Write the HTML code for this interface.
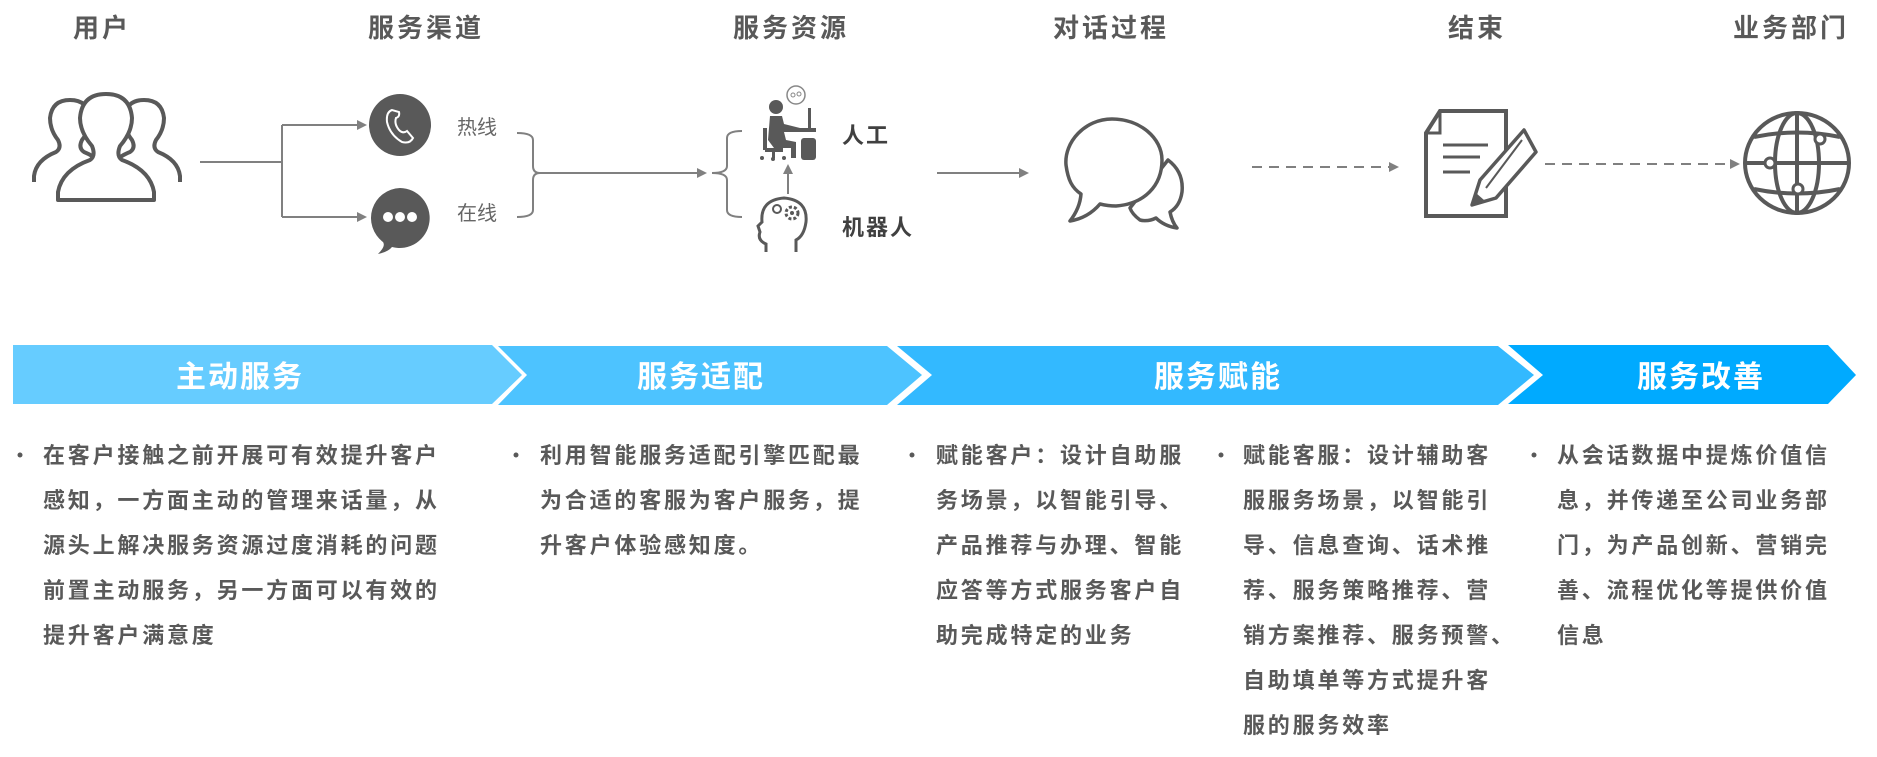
<!DOCTYPE html>
<html><head><meta charset="utf-8"><style>
html,body{margin:0;padding:0;background:#fff;}
svg{display:block;}
.t{font-family:"Liberation Sans","Noto Sans CJK SC",sans-serif;}
</style></head><body>
<svg width="1877" height="757" viewBox="0 0 1877 757" xmlns="http://www.w3.org/2000/svg">
<defs>
<marker id="ah" markerWidth="10" markerHeight="10" refX="8" refY="5" orient="auto" markerUnits="userSpaceOnUse"><path d="M0,0 L10,5 L0,10 z" fill="#808080"/></marker>
</defs>
<g class="t" font-weight="bold" fill="#595959" font-size="26" text-anchor="middle" letter-spacing="3">
<text x="102" y="37">用户</text>
<text x="426" y="37">服务渠道</text>
<text x="791" y="37">服务资源</text>
<text x="1111" y="37">对话过程</text>
<text x="1477" y="37">结束</text>
<text x="1791" y="37">业务部门</text>
</g>

<!-- users icon -->
<g fill="#fff" stroke="#595959" stroke-width="4" stroke-linejoin="round">
<path d="M34,182 L34,176 Q36,160 56,152 Q62,148 58,140 Q50,130 50,118 Q52,100 70,100 Q88,100 90,118 Q90,130 82,140 Q78,148 84,152 Q104,160 106,176 L106,182"/>
<path d="M108,182 L108,176 Q110,160 130,152 Q136,148 132,140 Q124,130 124,118 Q126,100 144,100 Q162,100 164,118 Q164,130 156,140 Q152,148 158,152 Q178,160 180,176 L180,182"/>
<path d="M58,200 L58,192 Q62,170 90,160 Q96,156 92,146 Q80,132 80,118 Q82,94 106,94 Q130,94 132,118 Q132,132 120,146 Q116,156 122,160 Q150,170 154,192 L154,200 z"/>
</g>

<!-- connectors -->
<g stroke="#808080" stroke-width="2" fill="none">
<path d="M200,162 L282,162"/>
<path d="M282,125 L282,217"/>
<path d="M282,125 L365,125" marker-end="url(#ah)"/>
<path d="M282,217 L365,217" marker-end="url(#ah)"/>
<path d="M517,133 Q533,133 533,140 L533,166 Q533,173 540,173 Q533,173 533,180 L533,210 Q533,217 517,217"/>
<path d="M540,173 L705,173" marker-end="url(#ah)"/>
<path d="M742,131 Q727,131 727,138 L727,166 Q727,173 712,173 Q727,173 727,180 L727,210 Q727,217 742,217"/>
<path d="M788,194 L788,166" marker-end="url(#ah)"/>
<path d="M937,173 L1027,173" marker-end="url(#ah)"/>
<path d="M1252,167 L1397,167" stroke-dasharray="10,7" marker-end="url(#ah)"/>
<path d="M1545,164 L1738,164" stroke-dasharray="10,7" marker-end="url(#ah)"/>
</g>

<!-- phone -->
<circle cx="400" cy="125" r="31" fill="#595959"/>
<path d="M392,110 Q386,112 387,122 Q390,135 402,142 Q410,144 413,138 L407,131 Q403,134 399,130 Q394,124 396,118 Q400,117 399,112 z" fill="none" stroke="#fff" stroke-width="2"/>
<!-- chat -->
<path d="M400,188 A30,30 0 1 1 392,247 Q388,252 378,254 Q386,246 383,242 A30,30 0 0 1 400,188 z" fill="#595959"/>
<circle cx="388" cy="217" r="5" fill="#fff"/><circle cx="400" cy="217" r="5" fill="#fff"/><circle cx="412" cy="217" r="5" fill="#fff"/>

<g class="t" fill="#666" font-size="20">
<text x="457" y="134">热线</text>
<text x="457" y="220">在线</text>
</g>

<!-- person at desk -->
<g fill="#595959">
<circle cx="776" cy="107" r="7"/>
<path d="M770,116 L782,116 L784,124 L800,128 L800,132 L784,132 L786,140 L796,142 L796,158 L791,158 L791,148 L774,148 L768,140 z"/>
<rect x="763" y="128" width="4" height="22"/>
<rect x="765" y="148" width="18" height="4"/>
<rect x="772" y="152" width="3" height="6"/>
<circle cx="762" cy="158" r="2"/><circle cx="773" cy="159" r="2"/><circle cx="784" cy="158" r="2"/>
<rect x="788" y="128" width="28" height="4"/>
<rect x="808" y="108" width="3" height="20"/>
<rect x="801" y="138" width="15" height="22" rx="3"/>
</g>
<circle cx="796" cy="95" r="9" fill="#fff" stroke="#888" stroke-width="1.5"/>
<circle cx="793" cy="95" r="2" fill="none" stroke="#888"/><circle cx="799" cy="94" r="2" fill="none" stroke="#888"/>
<!-- head brain -->
<path d="M766,252 L766,244 Q757,240 760,232 L758,226 L762,222 Q760,200 784,198 Q808,200 806,222 Q804,236 796,240 L796,252" fill="none" stroke="#595959" stroke-width="3"/>
<circle cx="777" cy="209" r="4" fill="none" stroke="#595959" stroke-width="2"/>
<circle cx="792" cy="213" r="6" fill="none" stroke="#595959" stroke-width="3" stroke-dasharray="3,2"/>
<circle cx="792" cy="213" r="2" fill="#595959"/>

<g class="t" font-weight="bold" fill="#404040" font-size="22" letter-spacing="2">
<text x="842" y="143">人工</text>
<text x="842" y="235">机器人</text>
</g>

<!-- speech bubbles -->
<g fill="#fff" stroke="#595959" stroke-width="3.5" stroke-linejoin="round">
<path d="M1168,160 Q1184,172 1182,192 Q1180,206 1170,212 Q1172,222 1177,228 Q1164,226 1156,218 Q1148,222 1140,220 Q1132,214 1130,208 z"/>
<path d="M1112,119 C1085,119 1064,142 1066,165 C1068,180 1072,188 1081,194 Q1080,208 1070,221 Q1088,218 1100,204 Q1108,206 1116,206 C1144,204 1162,186 1162,160 C1162,138 1140,119 1112,119 z"/>
</g>

<!-- document -->
<path d="M1426,133 L1440,111 L1506,111 L1506,216 L1426,216 z" fill="#fff" stroke="#595959" stroke-width="4"/>
<path d="M1426,133 L1440,133 L1440,111" fill="none" stroke="#595959" stroke-width="3"/>
<g stroke="#595959" stroke-width="3"><line x1="1443" y1="145" x2="1488" y2="145"/><line x1="1443" y1="157" x2="1480" y2="157"/><line x1="1443" y1="172" x2="1470" y2="172"/></g>
<path d="M1524,130 L1536,152 L1496,198 L1472,205 L1480,180 z" fill="#fff" stroke="#595959" stroke-width="3.5" stroke-linejoin="round"/>
<path d="M1472,205 L1476,193 L1484,200 z" fill="#595959"/>
<line x1="1522" y1="140" x2="1486" y2="188" stroke="#595959" stroke-width="2"/>

<!-- globe -->
<g fill="none" stroke="#595959" stroke-width="4">
<ellipse cx="1797" cy="163" rx="52" ry="50"/>
<ellipse cx="1797" cy="163" rx="22" ry="50"/>
<line x1="1797" y1="113" x2="1797" y2="213"/>
<line x1="1745" y1="163" x2="1849" y2="163"/>
<path d="M1754,137 Q1797,128 1840,137"/>
<path d="M1754,189 Q1797,198 1840,189"/>
</g>
<g fill="#fff" stroke="#595959" stroke-width="3">
<circle cx="1820" cy="139" r="5"/><circle cx="1770" cy="163" r="5"/><circle cx="1798" cy="189" r="5"/>
</g>

<!-- bands -->
<polygon points="13,345 492,345 522,375 492,404 13,404" fill="#66CCFF"/>
<polygon points="498,346 887,346 922,375 887,405 498,405 527,375" fill="#4DC3FF"/>
<polygon points="897,346 1498,346 1534,375 1498,405 897,405 932,375" fill="#33B9FF"/>
<polygon points="1508,345 1828,345 1856,375 1828,404 1508,404 1543,375" fill="#00AAFF"/>
<g class="t" font-weight="bold" fill="#fff" font-size="30" text-anchor="middle" letter-spacing="2">
<text x="240" y="387">主动服务</text>
<text x="701" y="387">服务适配</text>
<text x="1218" y="387">服务赋能</text>
<text x="1701" y="387">服务改善</text>
</g>

<!-- body text -->
<g fill="#595959">
<circle cx="20" cy="455" r="2.5"/><circle cx="516" cy="455" r="2.5"/><circle cx="912" cy="455" r="2.5"/><circle cx="1221" cy="455" r="2.5"/><circle cx="1534" cy="455" r="2.5"/>
</g>
<g class="t" font-weight="bold" fill="#595959" font-size="22" letter-spacing="2.8">
<text x="43" y="463">在客户接触之前开展可有效提升客户</text>
<text x="43" y="508">感知，一方面主动的管理来话量，从</text>
<text x="43" y="553">源头上解决服务资源过度消耗的问题</text>
<text x="43" y="598">前置主动服务，另一方面可以有效的</text>
<text x="43" y="643">提升客户满意度</text>
<text x="540" y="463">利用智能服务适配引擎匹配最</text>
<text x="540" y="508">为合适的客服为客户服务，提</text>
<text x="540" y="553">升客户体验感知度。</text>
<text x="936" y="463">赋能客户：设计自助服</text>
<text x="936" y="508">务场景，以智能引导、</text>
<text x="936" y="553">产品推荐与办理、智能</text>
<text x="936" y="598">应答等方式服务客户自</text>
<text x="936" y="643">助完成特定的业务</text>
<text x="1243" y="463">赋能客服：设计辅助客</text>
<text x="1243" y="508">服服务场景，以智能引</text>
<text x="1243" y="553">导、信息查询、话术推</text>
<text x="1243" y="598">荐、服务策略推荐、营</text>
<text x="1243" y="643">销方案推荐、服务预警、</text>
<text x="1243" y="688">自助填单等方式提升客</text>
<text x="1243" y="733">服的服务效率</text>
<text x="1557" y="463">从会话数据中提炼价值信</text>
<text x="1557" y="508">息，并传递至公司业务部</text>
<text x="1557" y="553">门，为产品创新、营销完</text>
<text x="1557" y="598">善、流程优化等提供价值</text>
<text x="1557" y="643">信息</text>
</g>
</svg>
</body></html>
